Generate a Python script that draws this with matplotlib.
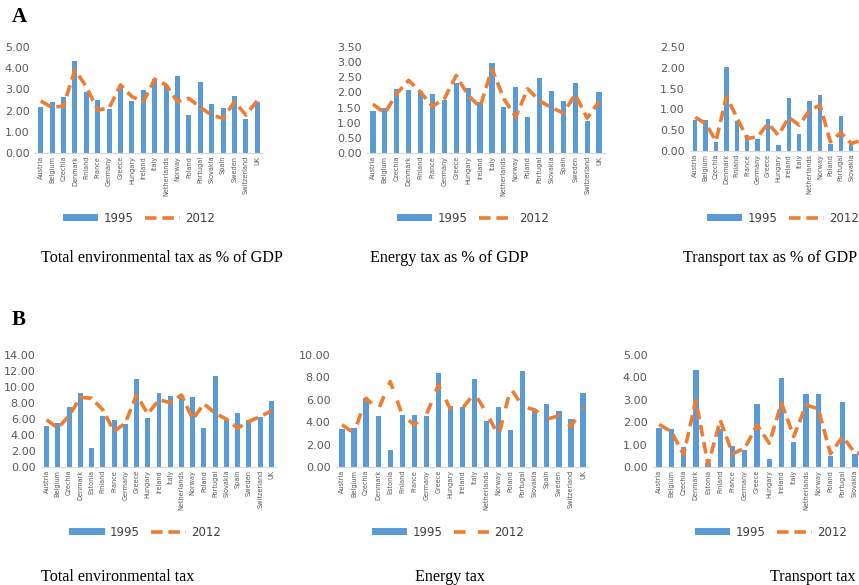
import numpy as np
import matplotlib
matplotlib.use("Agg")
import matplotlib.pyplot as plt

# countries
countries_a = ["Austria", "Belgium", "Czechia", "Denmark", "Finland", "France", "Germany",
               "Greece", "Hungary", "Ireland", "Italy", "Netherlands", "Norway", "Poland",
               "Portugal", "Slovakia", "Spain", "Sweden", "Switzerland", "UK"]
countries_b = ["Austria", "Belgium", "Czechia", "Denmark", "Estonia", "Finland", "France",
               "Germany", "Greece", "Hungary", "Ireland", "Italy", "Netherlands", "Norway",
               "Poland", "Portugal", "Slovakia", "Spain", "Sweden", "Switzerland", "UK"]

# A: taxes as % of GDP
total_gdp_1995 = [2.15, 2.39, 2.63, 4.32, 2.86, 2.50, 2.06, 3.16, 2.47, 2.97,
                  3.48, 3.21, 3.61, 1.77, 3.34, 2.29, 2.14, 2.69, 1.60, 2.42]
total_gdp_2012 = [2.45, 2.15, 2.22, 3.92, 3.13, 2.03, 2.12, 3.21, 2.66, 2.42,
                  3.48, 3.21, 2.42, 2.58, 2.15, 1.79, 1.63, 2.42, 1.79, 2.47]
energy_gdp_1995 = [1.39, 1.47, 2.12, 2.07, 2.06, 1.94, 1.74, 2.32, 2.16, 1.67,
                   2.98, 1.52, 2.18, 1.20, 2.48, 2.04, 1.73, 2.30, 1.05, 2.00]
energy_gdp_2012 = [1.61, 1.32, 1.96, 2.40, 2.01, 1.54, 1.79, 2.56, 1.90, 1.52,
                   2.78, 1.79, 1.19, 2.12, 1.72, 1.50, 1.32, 1.93, 1.15, 1.70]
transport_gdp_1995 = [0.74, 0.74, 0.22, 2.01, 0.73, 0.38, 0.30, 0.78, 0.14, 1.27,
                      0.42, 1.21, 1.35, 0.18, 0.84, 0.19, 0.20, 0.30, 0.25, 0.30]
transport_gdp_2012 = [0.81, 0.66, 0.24, 1.31, 0.81, 0.30, 0.34, 0.66, 0.38, 0.81,
                      0.62, 0.98, 1.10, 0.22, 0.44, 0.18, 0.26, 0.30, 0.30, 0.30]

# B: taxes as % of total taxation
total_1995 = [5.07, 5.48, 7.56, 9.22, 2.37, 6.40, 5.90, 5.40, 11.01, 6.11, 9.22,
              8.89, 8.60, 8.80, 4.86, 11.38, 5.82, 6.81, 5.82, 6.23, 8.27]
total_2012 = [5.90, 4.86, 6.40, 8.68, 8.60, 7.15, 4.45, 5.48, 9.01, 6.65, 8.39,
              8.06, 9.01, 5.98, 7.89, 6.73, 5.98, 4.86, 5.69, 6.31, 7.00]
energy_1995 = [3.38, 3.47, 6.14, 4.51, 1.54, 4.66, 4.63, 4.51, 8.37, 5.46, 5.34,
               7.83, 4.07, 5.34, 3.32, 8.61, 5.22, 5.64, 5.01, 4.27, 6.64]
energy_2012 = [3.77, 3.03, 6.14, 5.10, 7.63, 4.66, 3.77, 4.66, 7.33, 5.16, 5.25,
               6.59, 4.81, 2.79, 7.03, 5.40, 5.10, 4.27, 4.57, 3.62, 5.31]
transport_1995 = [1.76, 1.70, 0.88, 4.31, 0.18, 1.68, 0.94, 0.77, 2.80, 0.35, 3.98,
                  1.11, 3.27, 3.27, 0.50, 2.91, 0.59, 0.60, 0.80, 0.90, 1.20]
transport_2012 = [1.90, 1.58, 0.55, 2.98, 0.10, 2.09, 0.59, 0.84, 1.87, 1.06, 2.86,
                  1.36, 2.76, 2.61, 0.59, 1.36, 0.62, 0.60, 0.70, 0.80, 1.00]

BLUE = "#5B9BD5"
ORANGE = "#ED7D31"
GREY = "#595959"
W, H = 859, 585

fig = plt.figure(figsize=(W / 100, H / 100), dpi=100)


def px_axes(x0, x1, ytop, ybot):
    return fig.add_axes([x0 / W, 1 - ybot / H, (x1 - x0) / W, (ybot - ytop) / H])


def panel(rect, names, v95, v12, ymax, step, title, title_xy, leg_xy, dashes=(3.2, 1.6)):
    ax = px_axes(*rect)
    x = np.arange(len(names))
    bars = ax.bar(x, v95, width=0.44, color=BLUE, label="1995", zorder=2)
    line, = ax.plot(x, v12, color=ORANGE, lw=2.6, dashes=dashes, label="2012", zorder=3)
    ax.set_xlim(-0.5, len(names) - 0.5)
    ax.set_ylim(0, ymax)
    ticks = np.arange(0, ymax + step / 2, step)
    ax.set_yticks(ticks)
    ax.set_yticklabels([f"{v:.2f}" for v in ticks])
    ax.set_xticks(x)
    ax.set_xticklabels(names, rotation=90, fontsize=4.7, color=GREY)
    ax.tick_params(axis="y", length=0, labelsize=8, labelcolor=GREY, pad=4)
    ax.tick_params(axis="x", length=0, pad=2)
    # labels past the right edge of the figure are not shown
    x_right = rect[0] + (rect[1] - rect[0]) * (x + 0.5) / len(names)
    for lab, xr in zip(ax.get_xticklabels(), x_right):
        if xr > W + 2:
            lab.set_visible(False)
    for s in ["top", "right", "left"]:
        ax.spines[s].set_visible(False)
    ax.spines["bottom"].set_color("#D9D9D9")
    ax.patch.set_alpha(0)
    ax.legend([bars, line], ["1995", "2012"], loc="center",
              bbox_to_anchor=(leg_xy[0] / W, 1 - leg_xy[1] / H),
              bbox_transform=fig.transFigure, ncol=2, frameon=False, fontsize=8.5,
              handlelength=3.0, handleheight=0.5, columnspacing=1.0,
              handletextpad=0.4, labelcolor="#404040")
    fig.text(title_xy[0] / W, 1 - title_xy[1] / H, title, ha="center", va="center",
             fontsize=11.6, family="Liberation Serif")
    return ax


panel((35, 263, 47, 153), countries_a, total_gdp_1995, total_gdp_2012, 5, 1,
      "Total environmental tax as % of GDP", (162, 258), (139, 218))
panel((367, 605, 47, 153), countries_a, energy_gdp_1995, energy_gdp_2012, 3.5, 0.5,
      "Energy tax as % of GDP", (449, 258), (473, 218))
panel((690, 898, 47, 151), countries_a, transport_gdp_1995, transport_gdp_2012, 2.5, 0.5,
      "Transport tax as % of GDP", (770, 258), (783, 218))

panel((41, 277, 355, 467), countries_b, total_1995, total_2012, 14, 2,
      "Total environmental tax", (118, 577), (145, 532))
panel((336, 589, 355, 467), countries_b, energy_1995, energy_2012, 10, 2,
      "Energy tax", (450, 577), (448, 532), dashes=(3.2, 3.4))
panel((653, 910, 355, 467), countries_b, transport_1995, transport_2012, 5, 1,
      "Transport tax", (813, 577), (771, 532))

fig.text(12 / W, 1 - 17 / H, "A", fontsize=15, fontweight="bold", family="Liberation Serif",
         va="center")
fig.text(12 / W, 1 - 320 / H, "B", fontsize=15, fontweight="bold", family="Liberation Serif",
         va="center")

fig.savefig("out.png", dpi=100)
